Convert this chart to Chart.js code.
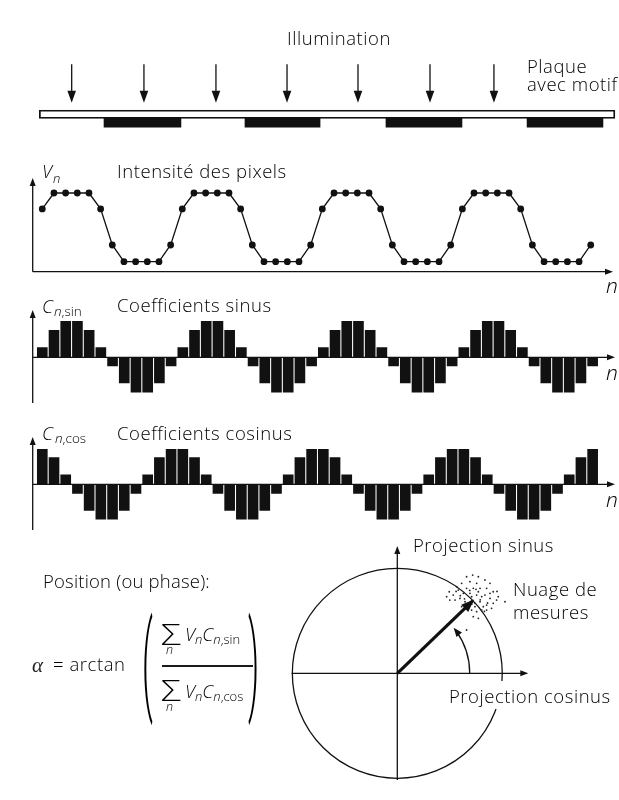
<!DOCTYPE html>
<html><head><meta charset="utf-8">
<script src="https://cdn.jsdelivr.net/npm/chart.js@4.4.1/dist/chart.umd.min.js"></script>
<style>
html,body{margin:0;padding:0;background:#fff;}
#page{position:relative;width:619px;height:800px;overflow:hidden;background:#fff;font-family:"Open Sans",Roboto,sans-serif;font-weight:300;color:#000;-webkit-font-smoothing:antialiased;}
canvas{position:absolute;}
.t{position:absolute;white-space:nowrap;line-height:1;font-size:18.5px;will-change:transform;}
.l{letter-spacing:0.55px;}
.i{font-style:italic;}
.sb{font-size:13px;position:relative;top:3px;}
.axn{font-size:21px;font-style:italic;}
.paren{font-family:Roboto,sans-serif;font-size:34px;transform:scaleY(3.2);transform-origin:50% 19px;}
.sig{font-size:29px;transform:scaleX(1.25);transform-origin:0 50%;}
.un{font-size:12.5px;font-style:italic;}
</style></head><body><div id="page">
<canvas id="cPlaque" width="619" height="140" style="left:0;top:0"></canvas>
<canvas id="cVn" width="619" height="150" style="left:0;top:150px"></canvas>
<canvas id="cSin" width="619" height="120" style="left:0;top:295px"></canvas>
<canvas id="cCos" width="619" height="115" style="left:0;top:425px"></canvas>
<canvas id="cCircle" width="339" height="265" style="left:280px;top:535px"></canvas>

<div class="t l" style="left:287px;top:28.6px">Illumination</div>
<div class="t l" style="left:527px;top:56.9px">Plaque</div>
<div class="t l" style="left:527px;top:75.3px">avec motif</div>

<div class="t i" style="left:42px;top:161.6px">V</div>
<div class="t i" style="left:52.5px;top:171.8px;font-size:13px">n</div>
<div class="t l" style="left:116.7px;top:161.6px">Intensité des pixels</div>
<div class="t axn" style="left:606px;top:274.7px">n</div>

<div class="t i" style="left:41.5px;top:296.6px">C</div>
<div class="t" style="left:53.5px;top:304.5px;font-size:13.5px"><i>n</i>,sin</div>
<div class="t l" style="left:116.7px;top:295.6px">Coefficients sinus</div>
<div class="t axn" style="left:606px;top:362.4px">n</div>

<div class="t i" style="left:42px;top:423.6px">C</div>
<div class="t" style="left:54.5px;top:431.5px;font-size:13.5px"><i>n</i>,cos</div>
<div class="t l" style="left:116.7px;top:423.6px">Coefficients cosinus</div>
<div class="t axn" style="left:606px;top:489.4px">n</div>

<div class="t l" style="left:42.7px;top:572.1px;letter-spacing:0.2px">Position (ou phase):</div>
<div class="t" style="left:31.7px;top:654.5px;font-family:'Liberation Serif',serif;font-style:italic;font-size:21px;font-weight:400;color:#222">α</div>
<div class="t l" style="left:53.3px;top:655.3px">= arctan</div>
<div class="t paren" style="left:141.5px;top:649.3px">(</div>
<div class="t paren" style="left:248px;top:649.3px">)</div>
<div style="position:absolute;left:161.7px;top:665.4px;width:91.6px;height:1.3px;background:#1a1a1a"></div>
<div class="t sig" style="left:160.8px;top:619.2px">Σ</div>
<div class="t un" style="left:166px;top:643.9px">n</div>
<div class="t" style="left:185px;top:625.3px"><i>V</i><span class="sb"><i>n</i></span><i>C</i><span class="sb"><i>n</i>,sin</span></div>
<div class="t sig" style="left:160.8px;top:675.2px">Σ</div>
<div class="t un" style="left:166px;top:701.4px">n</div>
<div class="t" style="left:185px;top:682.1px"><i>V</i><span class="sb"><i>n</i></span><i>C</i><span class="sb"><i>n</i>,cos</span></div>

<div class="t l" style="left:412.7px;top:536.3px">Projection sinus</div>
<div class="t l" style="left:512.7px;top:580.3px">Nuage de</div>
<div class="t l" style="left:512.7px;top:602.9px">mesures</div>
<div class="t l" style="left:447px;top:680.9px;padding:6px 2px 3px 2px;background:#fff">Projection cosinus</div>
</div>
<script>
// ---------- data ----------
const pixelIndex = [0,1,2,3,4,5,6,7,8,9,10,11,12,13,14,15,16,17,18,19,20,21,22,23,
  24,25,26,27,28,29,30,31,32,33,34,35,36,37,38,39,40,41,42,43,44,45,46,47];
const intensityVn = [6.7,8.4,8.4,8.4,8.4,6.7,2.85,1.07,1.07,1.07,1.07,2.85,
  6.7,8.4,8.4,8.4,8.4,6.7,2.85,1.07,1.07,1.07,1.07,2.85,
  6.7,8.4,8.4,8.4,8.4,6.7,2.85,1.07,1.07,1.07,1.07,2.85,
  6.7,8.4,8.4,8.4,8.4,6.7,2.85,1.07,1.07,1.07,1.07,2.85];
const coeffSin = [0.27,0.75,1.0,1.0,0.75,0.27,-0.24,-0.71,-0.97,-0.97,-0.71,-0.24,
  0.27,0.75,1.0,1.0,0.75,0.27,-0.24,-0.71,-0.97,-0.97,-0.71,-0.24,
  0.27,0.75,1.0,1.0,0.75,0.27,-0.24,-0.71,-0.97,-0.97,-0.71,-0.24,
  0.27,0.75,1.0,1.0,0.75,0.27,-0.24,-0.71,-0.97,-0.97,-0.71,-0.24];
const coeffCos = [1.0,0.76,0.27,-0.26,-0.75,-1.0,-1.0,-0.75,-0.26,0.27,0.76,1.0,
  1.0,0.76,0.27,-0.26,-0.75,-1.0,-1.0,-0.75,-0.26,0.27,0.76,1.0,
  1.0,0.76,0.27,-0.26,-0.75,-1.0,-1.0,-0.75,-0.26,0.27,0.76,1.0,
  1.0,0.76,0.27,-0.26,-0.75,-1.0,-1.0,-0.75,-0.26,0.27,0.76,1.0];
const plaqueLayers = ['plaque','motif'];
const plaqueSpanN = [-0.26, 48.9];
const motifPadsN = [[5.27,11.84],[17.31,23.72],[29.35,35.84],[41.4,47.88]];
const illumArrowsN = [2.51, 8.68, 14.83, 20.9, 26.96, 33.11, 38.57];
const vectorTip = [0.718, 0.691];
const alphaArcDeg = 39;
const alphaArcRadius = 0.69;
const circleRadius = 1;
const cloudPoints = [[0.66,0.92],[0.718,0.936],[0.772,0.92],[0.613,0.857],[0.692,0.873],[0.756,0.857],
  [0.835,0.889],[0.883,0.857],[0.495,0.777],[0.533,0.746],[0.581,0.793],[0.629,0.762],[0.66,0.81],
  [0.724,0.81],[0.788,0.81],[0.851,0.81],[0.914,0.777],[0.55,0.698],[0.597,0.714],[0.645,0.682],
  [0.708,0.73],[0.756,0.746],[0.804,0.73],[0.883,0.714],[0.946,0.698],[1.026,0.682],[0.50,0.698],
  [0.676,0.65],[0.74,0.667],[0.788,0.682],[0.851,0.65],[0.914,0.667],[0.708,0.603],[0.756,0.587],
  [0.804,0.603],[0.851,0.603],[0.724,0.54],[0.772,0.524],[0.66,0.413],[0.835,0.746],[0.566,0.825],
  [0.47,0.73],[0.692,0.762],[0.772,0.777],[0.883,0.762],[0.613,0.635],[0.819,0.635],[0.962,0.73],
  [0.898,0.619],[0.74,0.635],[0.79,0.70],[0.69,0.79],[0.60,0.74],[0.86,0.67],[0.75,0.80],[0.64,0.71],
  [0.83,0.59],[0.95,0.78],[0.56,0.78],[0.71,0.66]];

// ---------- layout / style ----------
const INK = '#111';
const X_MIN = -0.82, X_MAX = 49.08, N_AXIS_END = 48.91;
const PAD_LR = {left:32.7, right:2};

function arrowHead(ctx, x, y, ang, len, hw){
  ctx.save(); ctx.translate(x,y); ctx.rotate(ang);
  ctx.beginPath(); ctx.moveTo(0,0); ctx.lineTo(-len,-hw); ctx.lineTo(-len,hw); ctx.closePath(); ctx.fill();
  ctx.restore();
}
const baseOpts = (pad, yMin, yMax) => ({
  responsive:false, animation:false, devicePixelRatio:1,
  layout:{padding:Object.assign({}, PAD_LR, pad)},
  scales:{ x:{type:'linear', min:X_MIN, max:X_MAX, display:false, offset:false},
           y:{type:'linear', min:yMin, max:yMax, display:false} },
  plugins:{legend:{display:false}, tooltip:{enabled:false}}
});

function panelAxes(id){
  return { id, afterDatasetsDraw(chart){
    const {ctx, chartArea:a, scales:{x,y}} = chart;
    const x0 = a.left, y0 = y.getPixelForValue(0), xEnd = x.getPixelForValue(N_AXIS_END);
    ctx.save(); ctx.strokeStyle = INK; ctx.fillStyle = INK; ctx.lineWidth = 1.3;
    ctx.beginPath(); ctx.moveTo(x0, y0); ctx.lineTo(xEnd-6, y0); ctx.stroke();
    arrowHead(ctx, xEnd, y0, 0, 8, 3);
    ctx.beginPath(); ctx.moveTo(x0, a.bottom); ctx.lineTo(x0, a.top+6); ctx.stroke();
    arrowHead(ctx, x0, a.top, -Math.PI/2, 8, 3);
    ctx.restore();
  }};
}

// ---------- plaque ----------
new Chart(document.getElementById('cPlaque'), {
  type:'bar',
  data:{ labels: plaqueLayers, datasets:[
    { data:[{y:plaqueLayers[0], x:plaqueSpanN}], backgroundColor:'#fff', borderColor:INK,
      borderWidth:1.8, borderSkipped:false, barThickness:8.3, grouped:false },
    { data: motifPadsN.map(r => ({y:plaqueLayers[1], x:r})), backgroundColor:INK,
      borderWidth:0, barThickness:9.4, grouped:false }
  ]},
  options:{
    indexAxis:'y', responsive:false, animation:false, devicePixelRatio:1,
    layout:{padding:Object.assign({}, PAD_LR, {top:109.8, bottom:12.6})},
    scales:{ x:{type:'linear', min:X_MIN, max:X_MAX, display:false, offset:false},
             y:{type:'category', display:false, offset:true} },
    plugins:{legend:{display:false}, tooltip:{enabled:false}}
  },
  plugins:[{ id:'illum', afterDatasetsDraw(chart){
    const {ctx, chartArea:a, scales:{x}} = chart;
    ctx.save(); ctx.strokeStyle = INK; ctx.fillStyle = INK; ctx.lineWidth = 1.3;
    illumArrowsN.forEach(n => {
      const px = x.getPixelForValue(n);
      const top = a.top - 45.5, tip = a.top - 7.1;
      ctx.beginPath(); ctx.moveTo(px, top); ctx.lineTo(px, tip-10); ctx.stroke();
      arrowHead(ctx, px, tip, Math.PI/2, 12, 4.3);
    });
    ctx.restore();
  }}]
});

// ---------- Vn ----------
new Chart(document.getElementById('cVn'), {
  type:'scatter',
  data:{ datasets:[{ data: pixelIndex.map((n,i)=>({x:n, y:intensityVn[i]})), showLine:true,
    borderColor:INK, borderWidth:1.3, pointRadius:3.4, pointBackgroundColor:INK, pointBorderWidth:0, clip:false }]},
  options: baseOpts({top:28, bottom:28.3}, 0, 10),
  plugins:[panelAxes('axVn')]
});

// ---------- sin ----------
new Chart(document.getElementById('cSin'), {
  type:'bar',
  data:{ datasets:[{ data: pixelIndex.map((n,i)=>({x:n, y:coeffSin[i]})), backgroundColor:INK,
    borderWidth:0, barThickness:10 }]},
  options: baseOpts({top:15, bottom:12}, -1.269, 1.314),
  plugins:[panelAxes('axSin')]
});

// ---------- cos ----------
new Chart(document.getElementById('cCos'), {
  type:'bar',
  data:{ datasets:[{ data: pixelIndex.map((n,i)=>({x:n, y:coeffCos[i]})), backgroundColor:INK,
    borderWidth:0, barThickness:10 }]},
  options: baseOpts({top:12, bottom:10}, -1.306, 1.351),
  plugins:[panelAxes('axCos')]
});

// ---------- circle ----------
new Chart(document.getElementById('cCircle'), {
  type:'scatter',
  data:{ datasets:[
    { data: cloudPoints.map(p=>({x:p[0], y:p[1]})), pointRadius:0.9, pointBackgroundColor:'#222', pointBorderWidth:0 },
    { data:[{x:0,y:0},{x:vectorTip[0], y:vectorTip[1]}], showLine:true, borderColor:INK, borderWidth:3.2,
      pointRadius:0, borderCapStyle:'butt' }
  ]},
  options:{
    responsive:false, animation:false, devicePixelRatio:1,
    layout:{padding:{left:11.7, right:90.7, top:11, bottom:20}},
    scales:{ x:{type:'linear', min:-1.006, max:1.248, display:false},
             y:{type:'linear', min:-1.016, max:1.213, display:false} },
    plugins:{legend:{display:false}, tooltip:{enabled:false}}
  },
  plugins:[{ id:'polar',
    beforeDatasetsDraw(chart){
      const {ctx, chartArea:a, scales:{x,y}} = chart;
      const cx = x.getPixelForValue(0), cy = y.getPixelForValue(0);
      const r = x.getPixelForValue(circleRadius) - cx;
      ctx.save(); ctx.strokeStyle = INK; ctx.fillStyle = INK; ctx.lineWidth = 1.3;
      ctx.beginPath(); ctx.arc(cx, cy, r, 0, Math.PI*2); ctx.stroke();
      ctx.beginPath(); ctx.moveTo(a.left, cy); ctx.lineTo(a.right-6, cy); ctx.stroke();
      arrowHead(ctx, a.right, cy, 0, 8, 3);
      ctx.beginPath(); ctx.moveTo(cx, a.bottom); ctx.lineTo(cx, a.top+6); ctx.stroke();
      arrowHead(ctx, cx, a.top, -Math.PI/2, 8, 3);
      ctx.restore();
    },
    afterDatasetsDraw(chart){
      const {ctx, scales:{x,y}} = chart;
      const cx = x.getPixelForValue(0), cy = y.getPixelForValue(0);
      const tx = x.getPixelForValue(vectorTip[0]), ty = y.getPixelForValue(vectorTip[1]);
      const L = Math.hypot(tx-cx, ty-cy);
      ctx.save(); ctx.strokeStyle = INK; ctx.fillStyle = INK;
      arrowHead(ctx, tx + (tx-cx)/L*2, ty + (ty-cy)/L*2, Math.atan2(ty-cy, tx-cx), 13, 5);
      const ra = x.getPixelForValue(alphaArcRadius) - cx;
      const th = alphaArcDeg*Math.PI/180;
      ctx.lineWidth = 1.3;
      ctx.beginPath(); ctx.arc(cx, cy, ra, 0, -th+0.06, true); ctx.stroke();
      const ex = cx + ra*Math.cos(th), ey = cy - ra*Math.sin(th);
      arrowHead(ctx, ex, ey, Math.atan2(-Math.cos(th), -Math.sin(th)), 9, 3.5);
      ctx.restore();
    }
  }]
});
</script>
</body></html>
